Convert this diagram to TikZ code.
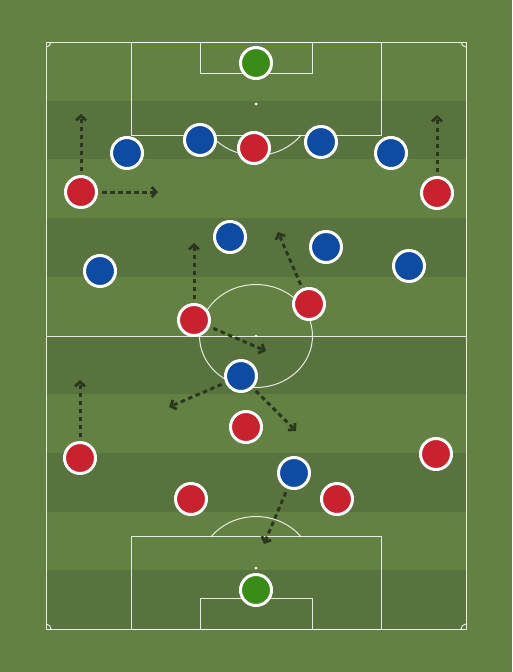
\documentclass[tikz,border=0pt]{standalone}
\usetikzlibrary{arrows.meta,shadows}
\definecolor{grassL}{RGB}{99,129,66}
\definecolor{grassD}{RGB}{89,115,62}
\definecolor{pred}{RGB}{200,34,46}
\definecolor{pblue}{RGB}{14,76,163}
\definecolor{pgreen}{RGB}{58,139,23}
\definecolor{arrowc}{RGB}{42,55,30}
\tikzset{
  pline/.style={draw=white, draw opacity=0.85, line width=1pt},
  player/.style={circle, minimum size=31pt, inner sep=0pt, draw=white, line width=3pt,
    drop shadow={shadow xshift=0.6pt, shadow yshift=-1.2pt, opacity=0.25}},
  redp/.style={player, fill=pred},
  bluep/.style={player, fill=pblue},
  keeper/.style={player, fill=pgreen},
  run/.style={draw=arrowc, line width=3pt, dash pattern=on 4.5pt off 3.5pt,
    shorten <=4pt, -{Straight Barb[length=4.5pt,width=10pt,line width=2.8pt]}}
}
\begin{document}
\begin{tikzpicture}[x=1pt,y=-1pt]
\useasboundingbox (0,0) rectangle (512,672);
\fill[grassL] (0,0) rectangle (512,672);
% stripes
\foreach \i in {1,3,5,7,9} {
  \fill[grassD] (46,{42+\i*58.7}) rectangle (466,{42+(\i+1)*58.7});
}
% pitch markings
\draw[pline] (46,42) rectangle (466,629);
\draw[pline] (46,336) -- (466,336);
\draw[pline] (256,336) ellipse [x radius=56.5, y radius=51.5];
\fill[white] (256,336) circle (1.3);
% top
\draw[pline] (131,42) rectangle (381,135);
\draw[pline] (200,42) rectangle (312,73);
\fill[white] (256,104) circle (1.5);
\begin{scope}
  \clip (131,135) rectangle (381,200);
  \draw[pline] (256,104) ellipse [x radius=56.5, y radius=51.5];
\end{scope}
% bottom
\draw[pline] (131,536) rectangle (381,629);
\draw[pline] (200,598) rectangle (312,629);
\fill[white] (256,568) circle (1.5);
\begin{scope}
  \clip (131,536) rectangle (381,470);
  \draw[pline] (256,568) ellipse [x radius=56.5, y radius=51.5];
\end{scope}
% corners
\begin{scope}
  \clip (46,42) rectangle (466,629);
  \draw[pline] (46,42) circle (5);
  \draw[pline] (466,42) circle (5);
  \draw[pline] (46,629) circle (5);
  \draw[pline] (466,629) circle (5);
\end{scope}
% keepers
\node[keeper] (gkt) at (256,63) {};
\node[keeper] (gkb) at (256,590) {};
% blue team
\node[bluep] (b1) at (127,153) {};
\node[bluep] (b2) at (200,140) {};
\node[bluep] (b3) at (321,142) {};
\node[bluep] (b4) at (391,153) {};
\node[bluep] (b5) at (230,237) {};
\node[bluep] (b6) at (326,247) {};
\node[bluep] (b7) at (100,271) {};
\node[bluep] (b8) at (409,266) {};
\node[bluep] (b9) at (241,376) {};
\node[bluep] (b10) at (294,473) {};
% red team
\node[redp] (r1) at (254,148) {};
\node[redp] (r2) at (81,192) {};
\node[redp] (r3) at (437,193) {};
\node[redp] (r4) at (194,320) {};
\node[redp] (r5) at (309,304) {};
\node[redp] (r6) at (246,427) {};
\node[redp] (r7) at (80,458) {};
\node[redp] (r8) at (436,454) {};
\node[redp] (r9) at (191,499) {};
\node[redp] (r10) at (337,499) {};
% run targets
\coordinate (t1) at (81,114);
\coordinate (t2) at (158,192);
\coordinate (t3) at (437,115);
\coordinate (t4) at (194,243);
\coordinate (t5) at (278,232);
\coordinate (t6) at (266,351);
\coordinate (t7) at (169,407);
\coordinate (t8) at (296,431);
\coordinate (t9) at (80,380);
\coordinate (t10) at (264,544);
% runs
\draw[run] (r2) -- (t1);
\draw[run] (r2) -- (t2);
\draw[run] (r3) -- (t3);
\draw[run] (r4) -- (t4);
\draw[run] (r5) -- (t5);
\draw[run] (r4) -- (t6);
\draw[run] (b9) -- (t7);
\draw[run] (b9) -- (t8);
\draw[run] (r7) -- (t9);
\draw[run] (b10) -- (t10);
\end{tikzpicture}
\end{document}
